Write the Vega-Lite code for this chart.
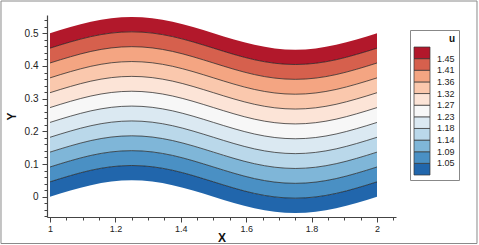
{
"$schema": "https://vega.github.io/schema/vega-lite/v6.json",
"width": 349, "height": 202,
"autosize": "none",
"padding": {"left": 47, "top": 15, "right": 83, "bottom": 28},
"background": "white",
"config": {"view": {"stroke": null}, "font": "Liberation Sans"},
"resolve": {"axis": {"x": "independent", "y": "independent"}},
"datasets": {"bands": [
{"x":1,"u":1.0278,"y":0,"y2":0.0455},{"x":1.0625,"u":1.0278,"y":0.0191,"y2":0.0646},{"x":1.125,"u":1.0278,"y":0.0354,"y2":0.0809},{"x":1.1875,"u":1.0278,"y":0.0462,"y2":0.0917},{"x":1.25,"u":1.0278,"y":0.05,"y2":0.0955},{"x":1.3125,"u":1.0278,"y":0.0462,"y2":0.0917},{"x":1.375,"u":1.0278,"y":0.0354,"y2":0.0809},{"x":1.4375,"u":1.0278,"y":0.0191,"y2":0.0646},{"x":1.5,"u":1.0278,"y":0,"y2":0.0455},{"x":1.5625,"u":1.0278,"y":-0.0191,"y2":0.0264},{"x":1.625,"u":1.0278,"y":-0.0354,"y2":0.0101},{"x":1.6875,"u":1.0278,"y":-0.0462,"y2":-0.0007},{"x":1.75,"u":1.0278,"y":-0.05,"y2":-0.0045},{"x":1.8125,"u":1.0278,"y":-0.0462,"y2":-0.0007},{"x":1.875,"u":1.0278,"y":-0.0354,"y2":0.0101},{"x":1.9375,"u":1.0278,"y":-0.0191,"y2":0.0264},{"x":2,"u":1.0278,"y":0,"y2":0.0455},
{"x":1,"u":1.0722,"y":0.0455,"y2":0.0909},{"x":1.0625,"u":1.0722,"y":0.0646,"y2":0.11},{"x":1.125,"u":1.0722,"y":0.0809,"y2":0.1263},{"x":1.1875,"u":1.0722,"y":0.0917,"y2":0.1371},{"x":1.25,"u":1.0722,"y":0.0955,"y2":0.1409},{"x":1.3125,"u":1.0722,"y":0.0917,"y2":0.1371},{"x":1.375,"u":1.0722,"y":0.0809,"y2":0.1263},{"x":1.4375,"u":1.0722,"y":0.0646,"y2":0.11},{"x":1.5,"u":1.0722,"y":0.0455,"y2":0.0909},{"x":1.5625,"u":1.0722,"y":0.0264,"y2":0.0718},{"x":1.625,"u":1.0722,"y":0.0101,"y2":0.0555},{"x":1.6875,"u":1.0722,"y":-0.0007,"y2":0.0447},{"x":1.75,"u":1.0722,"y":-0.0045,"y2":0.0409},{"x":1.8125,"u":1.0722,"y":-0.0007,"y2":0.0447},{"x":1.875,"u":1.0722,"y":0.0101,"y2":0.0555},{"x":1.9375,"u":1.0722,"y":0.0264,"y2":0.0718},{"x":2,"u":1.0722,"y":0.0455,"y2":0.0909},
{"x":1,"u":1.1167,"y":0.0909,"y2":0.1364},{"x":1.0625,"u":1.1167,"y":0.11,"y2":0.1555},{"x":1.125,"u":1.1167,"y":0.1263,"y2":0.1718},{"x":1.1875,"u":1.1167,"y":0.1371,"y2":0.1826},{"x":1.25,"u":1.1167,"y":0.1409,"y2":0.1864},{"x":1.3125,"u":1.1167,"y":0.1371,"y2":0.1826},{"x":1.375,"u":1.1167,"y":0.1263,"y2":0.1718},{"x":1.4375,"u":1.1167,"y":0.11,"y2":0.1555},{"x":1.5,"u":1.1167,"y":0.0909,"y2":0.1364},{"x":1.5625,"u":1.1167,"y":0.0718,"y2":0.1173},{"x":1.625,"u":1.1167,"y":0.0555,"y2":0.101},{"x":1.6875,"u":1.1167,"y":0.0447,"y2":0.0902},{"x":1.75,"u":1.1167,"y":0.0409,"y2":0.0864},{"x":1.8125,"u":1.1167,"y":0.0447,"y2":0.0902},{"x":1.875,"u":1.1167,"y":0.0555,"y2":0.101},{"x":1.9375,"u":1.1167,"y":0.0718,"y2":0.1173},{"x":2,"u":1.1167,"y":0.0909,"y2":0.1364},
{"x":1,"u":1.1611,"y":0.1364,"y2":0.1818},{"x":1.0625,"u":1.1611,"y":0.1555,"y2":0.2009},{"x":1.125,"u":1.1611,"y":0.1718,"y2":0.2172},{"x":1.1875,"u":1.1611,"y":0.1826,"y2":0.228},{"x":1.25,"u":1.1611,"y":0.1864,"y2":0.2318},{"x":1.3125,"u":1.1611,"y":0.1826,"y2":0.228},{"x":1.375,"u":1.1611,"y":0.1718,"y2":0.2172},{"x":1.4375,"u":1.1611,"y":0.1555,"y2":0.2009},{"x":1.5,"u":1.1611,"y":0.1364,"y2":0.1818},{"x":1.5625,"u":1.1611,"y":0.1173,"y2":0.1627},{"x":1.625,"u":1.1611,"y":0.101,"y2":0.1464},{"x":1.6875,"u":1.1611,"y":0.0902,"y2":0.1356},{"x":1.75,"u":1.1611,"y":0.0864,"y2":0.1318},{"x":1.8125,"u":1.1611,"y":0.0902,"y2":0.1356},{"x":1.875,"u":1.1611,"y":0.101,"y2":0.1464},{"x":1.9375,"u":1.1611,"y":0.1173,"y2":0.1627},{"x":2,"u":1.1611,"y":0.1364,"y2":0.1818},
{"x":1,"u":1.2056,"y":0.1818,"y2":0.2273},{"x":1.0625,"u":1.2056,"y":0.2009,"y2":0.2464},{"x":1.125,"u":1.2056,"y":0.2172,"y2":0.2627},{"x":1.1875,"u":1.2056,"y":0.228,"y2":0.2735},{"x":1.25,"u":1.2056,"y":0.2318,"y2":0.2773},{"x":1.3125,"u":1.2056,"y":0.228,"y2":0.2735},{"x":1.375,"u":1.2056,"y":0.2172,"y2":0.2627},{"x":1.4375,"u":1.2056,"y":0.2009,"y2":0.2464},{"x":1.5,"u":1.2056,"y":0.1818,"y2":0.2273},{"x":1.5625,"u":1.2056,"y":0.1627,"y2":0.2082},{"x":1.625,"u":1.2056,"y":0.1464,"y2":0.1919},{"x":1.6875,"u":1.2056,"y":0.1356,"y2":0.1811},{"x":1.75,"u":1.2056,"y":0.1318,"y2":0.1773},{"x":1.8125,"u":1.2056,"y":0.1356,"y2":0.1811},{"x":1.875,"u":1.2056,"y":0.1464,"y2":0.1919},{"x":1.9375,"u":1.2056,"y":0.1627,"y2":0.2082},{"x":2,"u":1.2056,"y":0.1818,"y2":0.2273},
{"x":1,"u":1.25,"y":0.2273,"y2":0.2727},{"x":1.0625,"u":1.25,"y":0.2464,"y2":0.2918},{"x":1.125,"u":1.25,"y":0.2627,"y2":0.3081},{"x":1.1875,"u":1.25,"y":0.2735,"y2":0.3189},{"x":1.25,"u":1.25,"y":0.2773,"y2":0.3227},{"x":1.3125,"u":1.25,"y":0.2735,"y2":0.3189},{"x":1.375,"u":1.25,"y":0.2627,"y2":0.3081},{"x":1.4375,"u":1.25,"y":0.2464,"y2":0.2918},{"x":1.5,"u":1.25,"y":0.2273,"y2":0.2727},{"x":1.5625,"u":1.25,"y":0.2082,"y2":0.2536},{"x":1.625,"u":1.25,"y":0.1919,"y2":0.2373},{"x":1.6875,"u":1.25,"y":0.1811,"y2":0.2265},{"x":1.75,"u":1.25,"y":0.1773,"y2":0.2227},{"x":1.8125,"u":1.25,"y":0.1811,"y2":0.2265},{"x":1.875,"u":1.25,"y":0.1919,"y2":0.2373},{"x":1.9375,"u":1.25,"y":0.2082,"y2":0.2536},{"x":2,"u":1.25,"y":0.2273,"y2":0.2727},
{"x":1,"u":1.2944,"y":0.2727,"y2":0.3182},{"x":1.0625,"u":1.2944,"y":0.2918,"y2":0.3373},{"x":1.125,"u":1.2944,"y":0.3081,"y2":0.3536},{"x":1.1875,"u":1.2944,"y":0.3189,"y2":0.3644},{"x":1.25,"u":1.2944,"y":0.3227,"y2":0.3682},{"x":1.3125,"u":1.2944,"y":0.3189,"y2":0.3644},{"x":1.375,"u":1.2944,"y":0.3081,"y2":0.3536},{"x":1.4375,"u":1.2944,"y":0.2918,"y2":0.3373},{"x":1.5,"u":1.2944,"y":0.2727,"y2":0.3182},{"x":1.5625,"u":1.2944,"y":0.2536,"y2":0.2991},{"x":1.625,"u":1.2944,"y":0.2373,"y2":0.2828},{"x":1.6875,"u":1.2944,"y":0.2265,"y2":0.272},{"x":1.75,"u":1.2944,"y":0.2227,"y2":0.2682},{"x":1.8125,"u":1.2944,"y":0.2265,"y2":0.272},{"x":1.875,"u":1.2944,"y":0.2373,"y2":0.2828},{"x":1.9375,"u":1.2944,"y":0.2536,"y2":0.2991},{"x":2,"u":1.2944,"y":0.2727,"y2":0.3182},
{"x":1,"u":1.3389,"y":0.3182,"y2":0.3636},{"x":1.0625,"u":1.3389,"y":0.3373,"y2":0.3827},{"x":1.125,"u":1.3389,"y":0.3536,"y2":0.399},{"x":1.1875,"u":1.3389,"y":0.3644,"y2":0.4098},{"x":1.25,"u":1.3389,"y":0.3682,"y2":0.4136},{"x":1.3125,"u":1.3389,"y":0.3644,"y2":0.4098},{"x":1.375,"u":1.3389,"y":0.3536,"y2":0.399},{"x":1.4375,"u":1.3389,"y":0.3373,"y2":0.3827},{"x":1.5,"u":1.3389,"y":0.3182,"y2":0.3636},{"x":1.5625,"u":1.3389,"y":0.2991,"y2":0.3445},{"x":1.625,"u":1.3389,"y":0.2828,"y2":0.3282},{"x":1.6875,"u":1.3389,"y":0.272,"y2":0.3174},{"x":1.75,"u":1.3389,"y":0.2682,"y2":0.3136},{"x":1.8125,"u":1.3389,"y":0.272,"y2":0.3174},{"x":1.875,"u":1.3389,"y":0.2828,"y2":0.3282},{"x":1.9375,"u":1.3389,"y":0.2991,"y2":0.3445},{"x":2,"u":1.3389,"y":0.3182,"y2":0.3636},
{"x":1,"u":1.3833,"y":0.3636,"y2":0.4091},{"x":1.0625,"u":1.3833,"y":0.3827,"y2":0.4282},{"x":1.125,"u":1.3833,"y":0.399,"y2":0.4445},{"x":1.1875,"u":1.3833,"y":0.4098,"y2":0.4553},{"x":1.25,"u":1.3833,"y":0.4136,"y2":0.4591},{"x":1.3125,"u":1.3833,"y":0.4098,"y2":0.4553},{"x":1.375,"u":1.3833,"y":0.399,"y2":0.4445},{"x":1.4375,"u":1.3833,"y":0.3827,"y2":0.4282},{"x":1.5,"u":1.3833,"y":0.3636,"y2":0.4091},{"x":1.5625,"u":1.3833,"y":0.3445,"y2":0.39},{"x":1.625,"u":1.3833,"y":0.3282,"y2":0.3737},{"x":1.6875,"u":1.3833,"y":0.3174,"y2":0.3629},{"x":1.75,"u":1.3833,"y":0.3136,"y2":0.3591},{"x":1.8125,"u":1.3833,"y":0.3174,"y2":0.3629},{"x":1.875,"u":1.3833,"y":0.3282,"y2":0.3737},{"x":1.9375,"u":1.3833,"y":0.3445,"y2":0.39},{"x":2,"u":1.3833,"y":0.3636,"y2":0.4091},
{"x":1,"u":1.4278,"y":0.4091,"y2":0.4545},{"x":1.0625,"u":1.4278,"y":0.4282,"y2":0.4736},{"x":1.125,"u":1.4278,"y":0.4445,"y2":0.4899},{"x":1.1875,"u":1.4278,"y":0.4553,"y2":0.5007},{"x":1.25,"u":1.4278,"y":0.4591,"y2":0.5045},{"x":1.3125,"u":1.4278,"y":0.4553,"y2":0.5007},{"x":1.375,"u":1.4278,"y":0.4445,"y2":0.4899},{"x":1.4375,"u":1.4278,"y":0.4282,"y2":0.4736},{"x":1.5,"u":1.4278,"y":0.4091,"y2":0.4545},{"x":1.5625,"u":1.4278,"y":0.39,"y2":0.4354},{"x":1.625,"u":1.4278,"y":0.3737,"y2":0.4191},{"x":1.6875,"u":1.4278,"y":0.3629,"y2":0.4083},{"x":1.75,"u":1.4278,"y":0.3591,"y2":0.4045},{"x":1.8125,"u":1.4278,"y":0.3629,"y2":0.4083},{"x":1.875,"u":1.4278,"y":0.3737,"y2":0.4191},{"x":1.9375,"u":1.4278,"y":0.39,"y2":0.4354},{"x":2,"u":1.4278,"y":0.4091,"y2":0.4545},
{"x":1,"u":1.4722,"y":0.4545,"y2":0.5},{"x":1.0625,"u":1.4722,"y":0.4736,"y2":0.5191},{"x":1.125,"u":1.4722,"y":0.4899,"y2":0.5354},{"x":1.1875,"u":1.4722,"y":0.5007,"y2":0.5462},{"x":1.25,"u":1.4722,"y":0.5045,"y2":0.55},{"x":1.3125,"u":1.4722,"y":0.5007,"y2":0.5462},{"x":1.375,"u":1.4722,"y":0.4899,"y2":0.5354},{"x":1.4375,"u":1.4722,"y":0.4736,"y2":0.5191},{"x":1.5,"u":1.4722,"y":0.4545,"y2":0.5},{"x":1.5625,"u":1.4722,"y":0.4354,"y2":0.4809},{"x":1.625,"u":1.4722,"y":0.4191,"y2":0.4646},{"x":1.6875,"u":1.4722,"y":0.4083,"y2":0.4538},{"x":1.75,"u":1.4722,"y":0.4045,"y2":0.45},{"x":1.8125,"u":1.4722,"y":0.4083,"y2":0.4538},{"x":1.875,"u":1.4722,"y":0.4191,"y2":0.4646},{"x":1.9375,"u":1.4722,"y":0.4354,"y2":0.4809},{"x":2,"u":1.4722,"y":0.4545,"y2":0.5}
]},
"layer": [
{
"data": {"name": "bands"},
"mark": {"type": "area", "interpolate": "monotone"},
"encoding": {
"x": {"field": "x", "type": "quantitative", "title": "X", "scale": {"domain": [0.99083, 2.0581], "nice": false, "zero": false},
"axis": {"orient": "bottom", "titleFontWeight": "bold", "titleFontSize": 12, "titleColor": "#111", "titlePadding": -1,
"values": [1,1.2,1.4,1.6,1.8,2], "format": "~g", "tickSize": 5,
"grid": false, "domainColor": "#444", "domainWidth": 1.2, "tickColor": "#444", "labelColor": "#222", "labelFontSize": 9, "labelPadding": 2, "labelOverlap": false, "labelFlush": false}},
"y": {"field": "y", "type": "quantitative", "title": "Y", "scale": {"domain": [-0.0621, 0.556], "nice": false, "zero": false},
"axis": {"orient": "left", "titleFontWeight": "bold", "titleFontSize": 12, "titleColor": "#111", "titlePadding": 6,
"values": [0,0.1,0.2,0.3,0.4,0.5], "format": "~g", "tickSize": 5,
"grid": false, "domainColor": "#444", "domainWidth": 1.2, "tickColor": "#444", "labelColor": "#222", "labelFontSize": 10, "labelPadding": 4, "labelOverlap": false, "labelFlush": false}},
"y2": {"field": "y2"},
"detail": {"field": "u"},
"color": {"field": "u", "type": "quantitative",
"scale": {"type": "threshold", "domain": [1.05,1.0944,1.1389,1.1833,1.2278,1.2722,1.3167,1.3611,1.4056,1.45],
"range": ["#2166ac","#4a90c4","#7fb6d8","#bad8ea","#dbe9f2","#f7f7f7","#fce4d7","#fac8ad","#f4a582","#d6604d","#b2182b"]},
"legend": {"type": "gradient", "direction": "vertical", "orient": "none", "legendX": 363, "legendY": 15,
"title": "u", "titleFontSize": 10, "titleFontWeight": "bold", "titleAnchor": "end", "titlePadding": 3, "titleColor": "#111",
"gradientLength": 128, "gradientThickness": 16, "gradientStrokeColor": "#333", "gradientStrokeWidth": 0.7,
"labelFontSize": 9, "labelOffset": 7, "labelOverlap": false, "format": ".2f", "labelColor": "#222",
"strokeColor": "#888", "padding": 4, "fillColor": "white"}}
}
},
{
"data": {"name": "bands"},
"transform": [{"filter": "datum.u < 1.46"}],
"mark": {"type": "line", "interpolate": "monotone", "color": "#1a1a1a", "strokeWidth": 0.7},
"encoding": {
"x": {"field": "x", "type": "quantitative", "scale": {"domain": [0.99083, 2.0581], "nice": false, "zero": false},
"axis": {"orient": "bottom", "title": null, "labels": false, "domain": false, "grid": false, "tickSize": 3, "tickColor": "#444",
"values": [1.05,1.1,1.15,1.25,1.3,1.35,1.45,1.5,1.55,1.65,1.7,1.75,1.85,1.9,1.95,2.05]}},
"y": {"field": "y2", "type": "quantitative", "scale": {"domain": [-0.0621, 0.556], "nice": false, "zero": false},
"axis": {"orient": "left", "title": null, "labels": false, "domain": false, "grid": false, "tickSize": 3, "tickColor": "#444",
"values": [-0.06,-0.04,-0.02,0.02,0.04,0.06,0.08,0.12,0.14,0.16,0.18,0.22,0.24,0.26,0.28,0.32,0.34,0.36,0.38,0.42,0.44,0.46,0.48,0.52,0.54]}},
"detail": {"field": "u"}
}
},
{
"data": {"values": [{}]},
"mark": {"type": "rect", "fill": null, "stroke": "#8a8a8a", "strokeWidth": 1},
"encoding": {
"x": {"datum": 0.85015, "type": "quantitative", "scale": {"domain": [0.99083, 2.0581], "nice": false, "zero": false}, "axis": null},
"x2": {"datum": 2.3058},
"y": {"datum": -0.1432, "type": "quantitative", "scale": {"domain": [-0.0621, 0.556], "nice": false, "zero": false}, "axis": null},
"y2": {"datum": 0.5988}
}
}
]
}
